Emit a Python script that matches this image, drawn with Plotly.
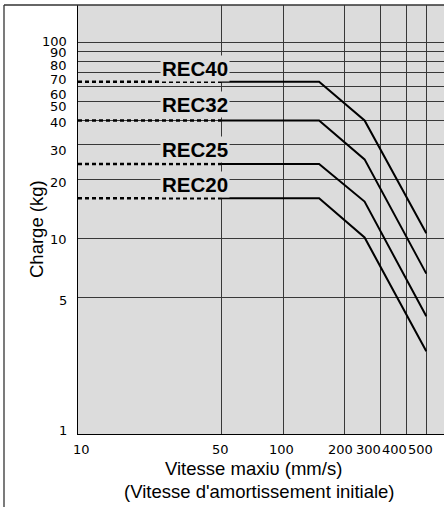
import math
import plotly.graph_objects as go

# ---- data ----
speeds = [10, 50, 150, 250, 500]          # mm/s
models = ["REC40", "REC32", "REC25", "REC20"]
load_rec40 = [63, 63, 63, 40, 10.6]       # kg
load_rec32 = [40, 40, 40, 25.3, 6.6]
load_rec25 = [24, 24, 24, 15.4, 4.0]
load_rec20 = [16, 16, 16, 10.1, 2.65]
loads = [load_rec40, load_rec32, load_rec25, load_rec20]

x_ticks = [10, 50, 100, 200, 300, 400, 500]
y_ticks = [1, 5, 10, 20, 30, 40, 50, 60, 70, 80, 90, 100]

x_title_1 = "Vitesse maxi\u03c5 (mm/s)"
x_title_2 = "(Vitesse d'amortissement initiale)"
y_title = "Charge (kg)"

# ---- style ----
W, H = 444, 507
ML, MR, MT, MB = 78, 0, 5, 73
PW, PH = W - ML - MR, H - MT - MB
BG = "#dcdcdc"
GRID = "#383838"
TXT = "Liberation Sans, Arial, sans-serif"
TICKF = "DejaVu Sans, sans-serif"
label_yshift = [13.6, 16.3, 14.7, 14.2]
xtick_shift = [3, -1, -2, -4, -12, -12, -6]
ytick_shift = [4, -2.8, -1.7, -3.6, -5.1, -2.5, -5.0, -8.0, -7.1, -4.0, -0.9, 0.6]

fig = go.Figure()
for name, ld in zip(models, loads):
    # dotted part (10 -> 50 mm/s)
    fig.add_trace(go.Scatter(x=speeds[:2], y=ld[:2], mode="lines",
                             line=dict(color="black", width=2.5, dash="4px,3px"),
                             showlegend=False, hoverinfo="skip"))
    # solid part
    fig.add_trace(go.Scatter(x=speeds[1:], y=ld[1:], mode="lines",
                             line=dict(color="black", width=2),
                             showlegend=False, name=name))

annotations = []
for name, ld, ys in zip(models, loads, label_yshift):
    annotations.append(dict(
        x=1.4, y=math.log10(ld[0]), xref="x", yref="y",
        xanchor="left", yanchor="middle", yshift=ys,
        text="<b>%s</b>" % name, showarrow=False,
        font=dict(family=TXT, size=20.5, color="black"),
        bgcolor=BG, borderpad=1))

for v, sh in zip(x_ticks, xtick_shift):
    annotations.append(dict(
        x=math.log10(v), y=0, xref="x", yref="paper",
        xanchor="center", yanchor="middle", xshift=sh, yshift=-15,
        text=str(v), showarrow=False,
        font=dict(family=TICKF, size=13, color="black")))

for v, sh in zip(y_ticks, ytick_shift):
    annotations.append(dict(
        x=0, y=math.log10(v), xref="paper", yref="y",
        xanchor="right", yanchor="middle", xshift=-9, yshift=sh,
        text=str(v), showarrow=False,
        font=dict(family=TICKF, size=13, color="black")))

annotations += [
    dict(x=(253.3 - ML) / PW, y=(MT + PH - 468.5) / PH,
         xref="paper", yref="paper", xanchor="center", yanchor="middle",
         text=x_title_1, showarrow=False,
         font=dict(family=TXT, size=18.5, color="black")),
    dict(x=(259.2 - ML) / PW, y=(MT + PH - 491) / PH,
         xref="paper", yref="paper", xanchor="center", yanchor="middle",
         text=x_title_2, showarrow=False,
         font=dict(family=TXT, size=18.5, color="black")),
    dict(x=(36 - ML) / PW, y=(MT + PH - 229) / PH,
         xref="paper", yref="paper", xanchor="center", yanchor="middle",
         text=y_title, textangle=-90, showarrow=False,
         font=dict(family=TXT, size=18.5, color="black")),
]

frame_x = (4 - ML) / PW
fig.update_layout(
    width=W, height=H,
    margin=dict(l=ML, r=MR, t=MT, b=MB, pad=0),
    paper_bgcolor="white", plot_bgcolor=BG,
    showlegend=False,
    annotations=annotations,
    shapes=[
        dict(type="line", xref="paper", yref="paper",
             x0=frame_x, x1=frame_x, y0=-0.3, y1=1,
             line=dict(color="#333333", width=1.3), layer="above"),
        dict(type="line", xref="paper", yref="paper",
             x0=frame_x, x1=1, y0=1, y1=1,
             line=dict(color="#333333", width=1.3), layer="above"),
    ],
)
fig.update_xaxes(type="log", range=[1, math.log10(610)],
                 tickvals=x_ticks, showticklabels=False,
                 showgrid=True, gridcolor=GRID, gridwidth=1,
                 showline=True, linecolor="black", linewidth=1.2,
                 zeroline=False, ticks="")
fig.update_yaxes(type="log", range=[0, 2.192],
                 tickvals=y_ticks, showticklabels=False,
                 showgrid=True, gridcolor=GRID, gridwidth=1,
                 showline=True, linecolor="black", linewidth=1.2,
                 zeroline=False, ticks="")

fig.write_html("out.html")
